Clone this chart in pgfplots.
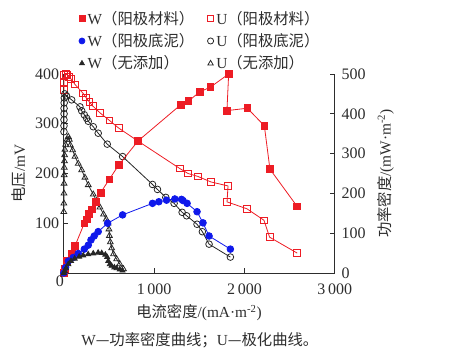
\documentclass[border=0pt]{standalone}
\usepackage{pgfplots}
\pgfplotsset{compat=1.18}
\usepackage{fontspec}
\setmainfont{Liberation Serif}
\newfontfamily\cjk{Noto Sans CJK SC}
\definecolor{myred}{RGB}{237,28,36}
\definecolor{myblue}{RGB}{15,25,235}
\definecolor{txt}{RGB}{45,45,45}
\begin{document}
\begin{tikzpicture}[font=\fontsize{11.5pt}{13pt}\selectfont]
\path[use as bounding box] (-47.85pt,-63pt) rectangle (289.65pt,204.75pt);
\pgfplotsset{
  common/.style={scale only axis, width=203.25pt, height=149.25pt,
    at={(0pt,0pt)}, anchor=south west,
    xmin=0, xmax=3000, clip=false,
    tick align=inside, major tick length=3.5pt,
    tick style={txt, line width=0.6pt},
    axis line style={txt, line width=0.7pt},
    tick label style={font=\fontsize{12pt}{13pt}\selectfont, text=txt},
    label style={font=\fontsize{11.5pt}{13pt}\selectfont, text=txt},
    /pgf/number format/assume math mode=true,
    /pgf/number format/1000 sep={\,},
  },
  ws/.style={line width=0.6pt, mark size=2.5pt},
}
\begin{axis}[common,
  axis x line*=bottom, axis y line*=left, xtick pos=left, ytick pos=left,
  ymin=0, ymax=400,
  xtick={1000,2000,3000}, ytick={100,200,300,400},
  xticklabel style={yshift=-4.5pt},
  xlabel={{\cjk 电流密度}/(mA·m\textsuperscript{-2})},
  ylabel={{\cjk 电压}/mV},
  xlabel style={at={(axis description cs:0.499,-0.201)}, anchor=center},
  ylabel style={at={(axis description cs:-0.165,0.5)}, anchor=center},
]
% U anode material
\addplot[ws, myred, mark=square, mark options={draw=myred, fill=white, solid}] coordinates {
(3,368) (3,383) (4,398) (20,400) (40,398) (60,394) (80,390) (124,379) (214,361) (245,353)
(282,344) (319,336) (400,322) (503,307) (610,291) (823,265) (1284,210) (1376,200) (1486,194)
(1629,183) (1818,175) (1807,143) (2028,129) (2216,106) (2278,72) (2584,40)};
% U anode slime
\addplot[ws, black!85, mark=o, mark options={fill=white}] coordinates {
(2,284) (2,296) (2,308) (3,320) (3,331) (4,342) (6,352) (12,360) (30,356) (87,348) (179,334)
(198,326) (227,318) (253,311) (271,305) (326,294) (381,281) (481,259) (651,234) (982,178)
(1037,168) (1129,152) (1221,140) (1310,122) (1360,115) (1475,98) (1534,83) (1608,58) (1844,32)};
% U none
\addplot[ws, black!85, mark=triangle, mark options={fill=white}] coordinates {
(0,123) (1,140) (2,160) (3,180) (4,197) (5,212) (7,225) (9,237) (12,248) (20,258) (35,268)
(50,274) (62,268) (72,257) (98,247) (124,234) (160,220) (198,207) (234,192) (271,177)
(326,158) (363,145) (400,132) (440,118) (470,108) (490,100) (500,88) (505,75) (515,62)
(530,50) (550,38) (585,28) (620,18) (660,8)};
\end{axis}
\begin{axis}[common,
  hide x axis, axis y line*=right, ytick pos=right,
  ymin=0, ymax=500, ytick={0,100,200,300,400,500},
  yticklabel style={xshift=1.5pt},
  ylabel={{\cjk 功率密度}/(mW·m\textsuperscript{-2})},
  ylabel style={at={(axis description cs:1.188,0.5)}, anchor=center},
  legend columns=2,
  legend cell align=left,
  legend image code/.code={\draw[#1] plot coordinates {(0pt,0pt)};},
  legend style={draw=none, fill=none, at={(axis description cs:0.04,1.345)}, anchor=north west,
    font=\fontsize{11.5pt}{13pt}\selectfont, text=txt, row sep=1.5pt,
    /tikz/every even column/.append style={column sep=8pt}},
]
\addlegendimage{only marks, myred, mark=square*, mark size=2.3pt, mark options={draw=myred, fill=myred}}
\addlegendentry{W{\cjk （阳极材料）}}
\addlegendimage{only marks, myred, mark=square, mark size=2.3pt, line width=0.6pt, mark options={draw=myred, fill=white}}
\addlegendentry{U{\cjk （阳极材料）}}
\addlegendimage{only marks, myblue, mark=*, mark size=2.3pt}
\addlegendentry{W{\cjk （阳极底泥）}}
\addlegendimage{only marks, black!85, mark=o, mark size=2.3pt, line width=0.6pt}
\addlegendentry{U{\cjk （阳极底泥）}}
\addlegendimage{only marks, black!85, mark=triangle*, mark size=2.3pt}
\addlegendentry{W{\cjk （无添加）}}
\addlegendimage{only marks, black!85, mark=triangle, mark size=2.3pt, line width=0.6pt}
\addlegendentry{U{\cjk （无添加）}}
% W anode material
\addplot[ws, myred, mark=square*, forget plot] coordinates {
(0,0) (15,10) (32,30) (87,48) (124,68) (227,125) (253,135) (278,148) (308,160) (352,179)
(408,202) (503,235) (610,272) (823,332) (1296,423) (1380,432) (1505,455) (1623,467)
(1825,500) (1806,408) (2032,414) (2220,370) (2282,261) (2584,167)};
% W anode slime
\addplot[ws, myblue, mark=*, forget plot] coordinates {
(0,0) (20,14) (50,30) (105,39) (160,49) (227,60) (271,70) (301,83) (337,93) (381,104)
(485,125) (651,146) (982,175) (1052,179) (1137,183) (1229,186) (1303,185) (1320,182)
(1365,175) (1475,154) (1541,126) (1608,93) (1844,60)};
% W none
\addplot[ws, black!85, mark=triangle*, mark size=2.2pt, forget plot] coordinates {
(0,0) (10,5) (25,12) (50,22) (80,30) (120,36) (170,41) (215,44) (270,47) (326,49) (380,51)
(420,50) (460,46) (480,40) (492,30) (510,22) (529,18) (560,14) (584,12) (620,9) (650,6)};
\end{axis}
\node[text=txt, font=\fontsize{12pt}{13pt}\selectfont] at (-2.85pt,-6.5pt) {0};
\node[text=txt, font=\fontsize{11.5pt}{13pt}\selectfont] at (102pt,-50.25pt)
  {W{\cjk —功率密度曲线；}U{\cjk —极化曲线。}};
\end{tikzpicture}
\end{document}
